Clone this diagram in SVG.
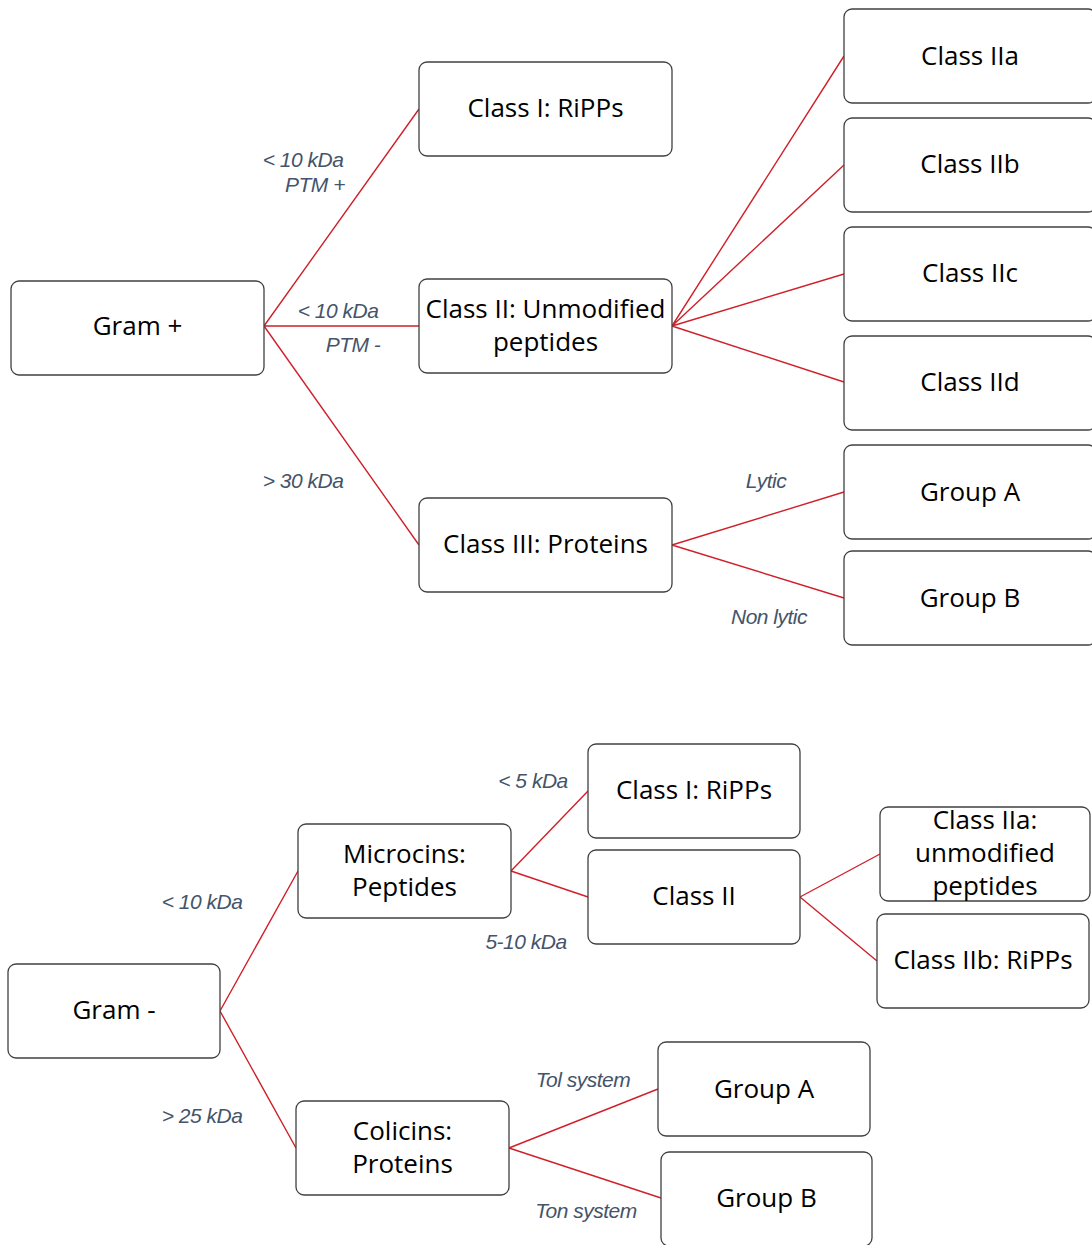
<svg xmlns="http://www.w3.org/2000/svg" width="1092" height="1245" viewBox="0 0 1092 1245">
<style>
.box{fill:#fff;stroke:#404040;stroke-width:1.3}
.t{font-family:"Open Sans","Noto Sans",sans-serif;font-size:26px;fill:#000;text-anchor:middle}
.l{font-family:"Liberation Sans",Arial,sans-serif;font-size:21px;font-style:italic;fill:#44546A;text-anchor:middle;letter-spacing:-0.5px}
.c{stroke:#D0202A;stroke-width:1.4;fill:none}
</style>
<rect width="1092" height="1245" fill="#fff"/>
<g id="connectors">
<path class="c" d="M264 326L419 109M264 326L419 326M264 326L419 545"/>
<path class="c" d="M672 326L844 56M672 326L844 165M672 326L844 274M672 326L844 382"/>
<path class="c" d="M672 545L844 492M672 545L844 598"/>
<path class="c" d="M220 1011L298 871M220 1011L296 1148"/>
<path class="c" d="M511 871L588 791M511 871L588 897"/>
<path class="c" d="M800 897L880 854M800 897L877 961"/>
<path class="c" d="M509 1148L658 1089M509 1148L661 1198"/>
</g>
<g id="labels">
<text class="l" x="303" y="167">&lt; 10 kDa</text>
<text class="l" x="315" y="192">PTM +</text>
<text class="l" x="338" y="318">&lt; 10 kDa</text>
<text class="l" x="353" y="352">PTM -</text>
<text class="l" x="303" y="488">&gt; 30 kDa</text>
<text class="l" x="766" y="488">Lytic</text>
<text class="l" x="769" y="624">Non lytic</text>
<text class="l" x="202" y="909">&lt; 10 kDa</text>
<text class="l" x="202" y="1123">&gt; 25 kDa</text>
<text class="l" x="533" y="788">&lt; 5 kDa</text>
<text class="l" x="526" y="949">5-10 kDa</text>
<text class="l" x="583" y="1087">Tol system</text>
<text class="l" x="586" y="1218">Ton system</text>
</g>
<g id="gram-plus"><rect class="box" x="11" y="281" width="253" height="94" rx="8"/><text class="t" x="137.5" y="335">Gram +</text></g>
<g id="gp-class1"><rect class="box" x="419" y="62" width="253" height="94" rx="8"/><text class="t" x="545.5" y="117">Class I: RiPPs</text></g>
<g id="gp-class2"><rect class="box" x="419" y="279" width="253" height="94" rx="8"/><text class="t" x="545.5" y="318">Class II: Unmodified</text><text class="t" x="545.5" y="351">peptides</text></g>
<g id="gp-class3"><rect class="box" x="419" y="498" width="253" height="94" rx="8"/><text class="t" x="545.5" y="553">Class III: Proteins</text></g>
<g id="gp-class2a"><rect class="box" x="844" y="9" width="252" height="94" rx="8"/><text class="t" x="970" y="65">Class IIa</text></g>
<g id="gp-class2b"><rect class="box" x="844" y="118" width="252" height="94" rx="8"/><text class="t" x="970" y="173">Class IIb</text></g>
<g id="gp-class2c"><rect class="box" x="844" y="227" width="252" height="94" rx="8"/><text class="t" x="970" y="282">Class IIc</text></g>
<g id="gp-class2d"><rect class="box" x="844" y="336" width="252" height="94" rx="8"/><text class="t" x="970" y="391">Class IId</text></g>
<g id="gp-groupA"><rect class="box" x="844" y="445" width="252" height="94" rx="8"/><text class="t" x="970" y="501">Group A</text></g>
<g id="gp-groupB"><rect class="box" x="844" y="551" width="252" height="94" rx="8"/><text class="t" x="970" y="607">Group B</text></g>
<g id="gram-minus"><rect class="box" x="8" y="964" width="212" height="94" rx="8"/><text class="t" x="114" y="1019">Gram -</text></g>
<g id="microcins"><rect class="box" x="298" y="824" width="213" height="94" rx="8"/><text class="t" x="404.5" y="863">Microcins:</text><text class="t" x="404.5" y="896">Peptides</text></g>
<g id="colicins"><rect class="box" x="296" y="1101" width="213" height="94" rx="8"/><text class="t" x="402.5" y="1140">Colicins:</text><text class="t" x="402.5" y="1173">Proteins</text></g>
<g id="gn-class1"><rect class="box" x="588" y="744" width="212" height="94" rx="8"/><text class="t" x="694" y="799">Class I: RiPPs</text></g>
<g id="gn-class2"><rect class="box" x="588" y="850" width="212" height="94" rx="8"/><text class="t" x="694" y="905">Class II</text></g>
<g id="gn-class2a"><rect class="box" x="880" y="807" width="210" height="94" rx="8"/><text class="t" x="985" y="829">Class IIa:</text><text class="t" x="985" y="862">unmodified</text><text class="t" x="985" y="895">peptides</text></g>
<g id="gn-class2b"><rect class="box" x="877" y="914" width="212" height="94" rx="8"/><text class="t" x="983" y="969">Class IIb: RiPPs</text></g>
<g id="gn-groupA"><rect class="box" x="658" y="1042" width="212" height="94" rx="8"/><text class="t" x="764" y="1098">Group A</text></g>
<g id="gn-groupB"><rect class="box" x="661" y="1152" width="211" height="94" rx="8"/><text class="t" x="766.5" y="1207">Group B</text></g>
</svg>
